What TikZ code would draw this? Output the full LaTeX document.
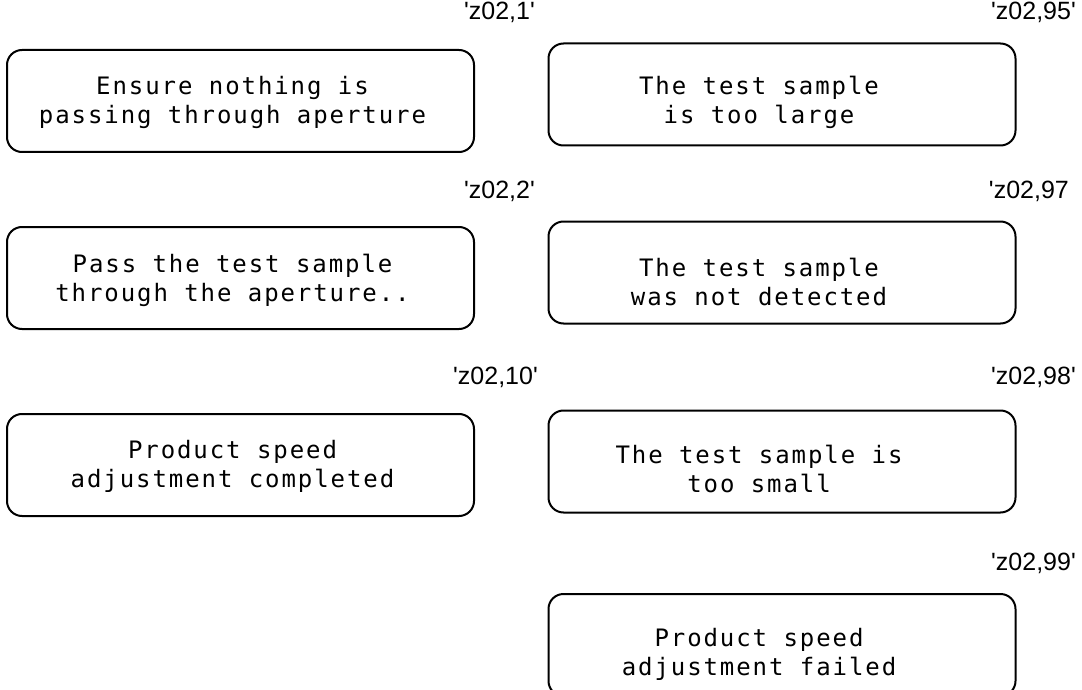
\documentclass[tikz,border=0pt]{standalone}
\usepackage{fontspec}
\newfontfamily\labelfont{Liberation Sans}
\newfontfamily\boxfont[LetterSpace=8]{DejaVu Sans Mono}
\begin{document}
\begin{tikzpicture}[x=1pt,y=-1pt,
  box/.style={draw=black, line width=2pt, rounded corners=15pt, minimum width=467pt, minimum height=102pt, inner sep=0pt, outer sep=0pt},
  boxtext/.style={inner sep=0pt, align=center, font=\boxfont\fontsize{24}{29}\selectfont},
  tag/.style={anchor=base east, inner sep=0pt, font=\labelfont\fontsize{25}{28}\selectfont}]
\useasboundingbox (0,0) rectangle (1082,690);
% left column
\node[box] (l1) at (240.5,101) {};
\node[box] (l2) at (240.5,278) {};
\node[box] (l3) at (240.5,465) {};
\node[boxtext] (l1t) at ([xshift=-8pt,yshift=-1pt]l1.center) {Ensure nothing is\\passing through aperture};
\node[boxtext] (l2t) at ([xshift=-8pt,yshift=-2pt]l2.center) {Pass the test sample\\through the aperture..};
\node[boxtext] (l3t) at ([xshift=-8pt,yshift=-1pt]l3.center) {Product speed\\adjustment completed};
% right column
\node[box] (r1) at (782,94.5) {};
\node[box] (r2) at (782,272.5) {};
\node[box] (r3) at (782,461.5) {};
\node[box] (r4) at (782,645) {};
\node[boxtext] (r1t) at ([xshift=-23pt,yshift=-8pt]r1.center) {The test sample\\is too large};
\node[boxtext] (r2t) at ([xshift=-23pt,yshift=-9pt]r2.center) {The test sample\\was not detected};
\node[boxtext] (r3t) at ([xshift=-23pt,yshift=-7pt]r3.center) {The test sample is\\too small};
\node[boxtext] (r4t) at ([xshift=-23pt,yshift=-9pt]r4.center) {Product speed\\adjustment failed};
% labels
\node[tag] (t1) at (535,20) {'z02,1'};
\node[tag] (t2) at (535,198) {'z02,2'};
\node[tag] (t3) at (538,384) {'z02,10'};
\node[tag] (t4) at (1076,20) {'z02,95'};
\node[tag] (t5) at (1069,198) {'z02,97};
\node[tag] (t6) at (1076,384) {'z02,98'};
\node[tag] (t7) at (1076,570) {'z02,99'};
\end{tikzpicture}
\end{document}
